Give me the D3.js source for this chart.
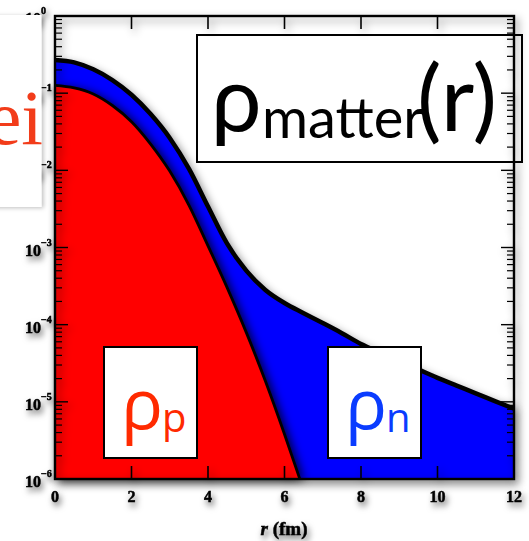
<!DOCTYPE html>
<html>
<head>
<meta charset="utf-8">
<script src="https://cdn.jsdelivr.net/npm/d3@7"></script>
<style>
  html, body { margin: 0; padding: 0; background: #fff; }
  svg { display: block; }
</style>
</head>
<body>
<script>
// Radial grid (fm) and total matter density (fm^-3)
const rMatter = [0, 0.5, 1, 1.5, 2, 2.5, 3, 3.5, 4, 4.5, 5, 5.5, 6, 6.5, 7, 7.5, 8, 8.5, 9, 9.5, 10, 10.5, 11, 11.5, 12];
const matterDensity = [0.269, 0.251, 0.204, 0.148, 0.0955, 0.0537, 0.0263, 0.0105, 0.00339, 0.00112,
  5.01e-4, 2.82e-4, 1.91e-4, 1.41e-4, 1.05e-4, 7.76e-5, 5.62e-5, 4.37e-5, 3.39e-5, 2.63e-5,
  2.04e-5, 1.62e-5, 1.29e-5, 1.02e-5, 8.13e-6];

// Proton density (fm^-3)
const rProton = [0, 0.5, 1, 1.5, 2, 2.5, 3, 3.5, 4, 4.5, 5, 5.5, 6, 6.4];
const protonDensity = [0.126, 0.117, 0.0977, 0.0692, 0.0427, 0.0219, 0.00977, 0.00355, 0.00105,
  3.02e-4, 7.94e-5, 1.86e-5, 3.8e-6, 1.0e-6];

const xTickValues = [0, 2, 4, 6, 8, 10, 12];
const yDecades = [-6, -5, -4, -3, -2, -1, 0];
const xAxisTitle = ["r", " (fm)"];

const W = 529, H = 541;
const plotL = 55, plotR = 514, plotT = 16, plotB = 479;

const svg = d3.select("body").append("svg").attr("width", W).attr("height", H);

const defs = svg.append("defs");
function shadow(id, dx, dy, sd, op) {
  const f = defs.append("filter").attr("id", id)
    .attr("x", "-30%").attr("y", "-30%").attr("width", "160%").attr("height", "160%");
  f.append("feDropShadow").attr("dx", dx).attr("dy", dy)
    .attr("stdDeviation", sd).attr("flood-color", "#000").attr("flood-opacity", op);
}
shadow("plotShadow", 3, 4, 4, 0.45);
shadow("redShadow", 4, 1, 5, 0.8);
shadow("labelShadow", 2, 4, 3, 0.6);
shadow("boxShadow", 2, 1, 2, 0.25);

const x = d3.scaleLinear().domain([0, 12]).range([plotL, plotR]);
const y = d3.scaleLog().domain([1e-6, 1]).range([plotB, plotT]);

const matterPts = rMatter.map((r, i) => [r, matterDensity[i]]);
const protonPts = rProton.map((r, i) => [r, protonDensity[i]]);

const area = d3.area().x(d => x(d[0])).y0(y(1e-6)).y1(d => y(d[1])).curve(d3.curveMonotoneX);
const line = d3.line().x(d => x(d[0])).y(d => y(d[1])).curve(d3.curveMonotoneX);

// Filled densities
const plot = svg.append("g").attr("filter", "url(#plotShadow)");
plot.append("path").datum(matterPts).attr("d", area).attr("fill", "#0000ff");
plot.append("path").datum(matterPts).attr("d", line)
  .attr("fill", "none").attr("stroke", "#000").attr("stroke-width", 4.5);

const red = svg.append("g").attr("filter", "url(#redShadow)");
red.append("path").datum(protonPts).attr("d", area).attr("fill", "#ff0000");
svg.append("path").datum(protonPts).attr("d", line)
  .attr("fill", "none").attr("stroke", "#000").attr("stroke-width", 2.8);

// Legend boxes
const mBox = svg.append("g");
mBox.append("rect").attr("x", 197).attr("y", 35).attr("width", 325).attr("height", 127)
  .attr("fill", "#fff").attr("stroke", "#000").attr("stroke-width", 2);
mBox.append("text").attr("x", 211).attr("y", 131).attr("font-family", "Lato")
  .attr("font-size", 90).attr("fill", "#000").text("ρ");
mBox.append("text").attr("x", 262).attr("y", 138).attr("font-family", "Lato")
  .attr("font-size", 56).attr("fill", "#000").text("matter");
mBox.append("text").attr("x", 417).attr("y", 131).attr("font-family", "Lato")
  .attr("font-size", 92).attr("fill", "#000").text("(r)");

function smallBox(x0, col, sub) {
  const g = svg.append("g");
  g.append("rect").attr("x", x0).attr("y", 347).attr("width", 93).attr("height", 111)
    .attr("fill", "#fff").attr("stroke", "#000").attr("stroke-width", 2);
  g.append("text").attr("x", x0 + 17).attr("y", 429).attr("font-family", "Open Sans")
    .attr("font-size", 70).attr("fill", col).text("ρ");
  g.append("text").attr("x", x0 + 58).attr("y", 432).attr("font-family", "Open Sans")
    .attr("font-size", 40).attr("fill", col).text(sub);
}
smallBox(104, "#ff2a00", "p");
smallBox(328, "#0a3cff", "n");

// Frame and ticks
const axes = svg.append("g").attr("filter", "url(#plotShadow)");
axes.append("rect").attr("x", plotL).attr("y", plotT).attr("width", plotR - plotL).attr("height", plotB - plotT)
  .attr("fill", "none").attr("stroke", "#000").attr("stroke-width", 2.4);

const minor = [];
yDecades.slice(0, -1).forEach(d => { for (let k = 2; k <= 9; k++) minor.push(k * Math.pow(10, d)); });
const major = yDecades.map(d => Math.pow(10, d));

[[plotL, 1], [plotR, -1]].forEach(([x0, s]) => {
  axes.selectAll(null).data(minor).enter().append("line")
    .attr("x1", x0).attr("x2", x0 + s * 7).attr("y1", d => y(d)).attr("y2", d => y(d))
    .attr("stroke", "#000").attr("stroke-width", 1.2);
  axes.selectAll(null).data(major).enter().append("line")
    .attr("x1", x0).attr("x2", x0 + s * 13).attr("y1", d => y(d)).attr("y2", d => y(d))
    .attr("stroke", "#000").attr("stroke-width", 1.4);
});
[[plotT, 1], [plotB, -1]].forEach(([y0, s]) => {
  axes.selectAll(null).data(xTickValues).enter().append("line")
    .attr("x1", d => x(d)).attr("x2", d => x(d)).attr("y1", y0).attr("y2", y0 + s * 13)
    .attr("stroke", "#000").attr("stroke-width", 1.6);
});

// Tick labels
const labels = svg.append("g").attr("filter", "url(#labelShadow)")
  .attr("font-family", "Liberation Serif").attr("font-weight", "bold")
  .attr("fill", "#000").attr("stroke", "#000").attr("stroke-width", 0.5);

labels.selectAll(null).data(xTickValues).enter().append("text")
  .attr("x", d => x(d)).attr("y", 502).attr("text-anchor", "middle")
  .attr("font-size", 16).text(d => d);

yDecades.forEach(d => {
  const yy = y(Math.pow(10, d));
  labels.append("text").attr("x", 41).attr("y", yy + 8).attr("text-anchor", "end")
    .attr("font-size", 16).text("10");
  labels.append("text").attr("x", 41).attr("y", yy - 2).attr("font-size", 10).text(d === 0 ? "0" : "\u2212" + (-d));
});

const xt = labels.append("text").attr("x", 284).attr("y", 535).attr("text-anchor", "middle").attr("font-size", 19);
xt.append("tspan").attr("font-style", "italic").text(xAxisTitle[0]);
xt.append("tspan").text(xAxisTitle[1]);

// Title card at the left edge
svg.append("rect").attr("x", -10).attr("y", 15).attr("width", 51.5).attr("height", 192)
  .attr("fill", "#fff").attr("filter", "url(#boxShadow)");
svg.append("text").attr("x", 43).attr("y", 144).attr("text-anchor", "end")
  .attr("font-family", "Liberation Serif").attr("font-size", 78).attr("fill", "#f23c1a").text("nuclei");
</script>
</body>
</html>
